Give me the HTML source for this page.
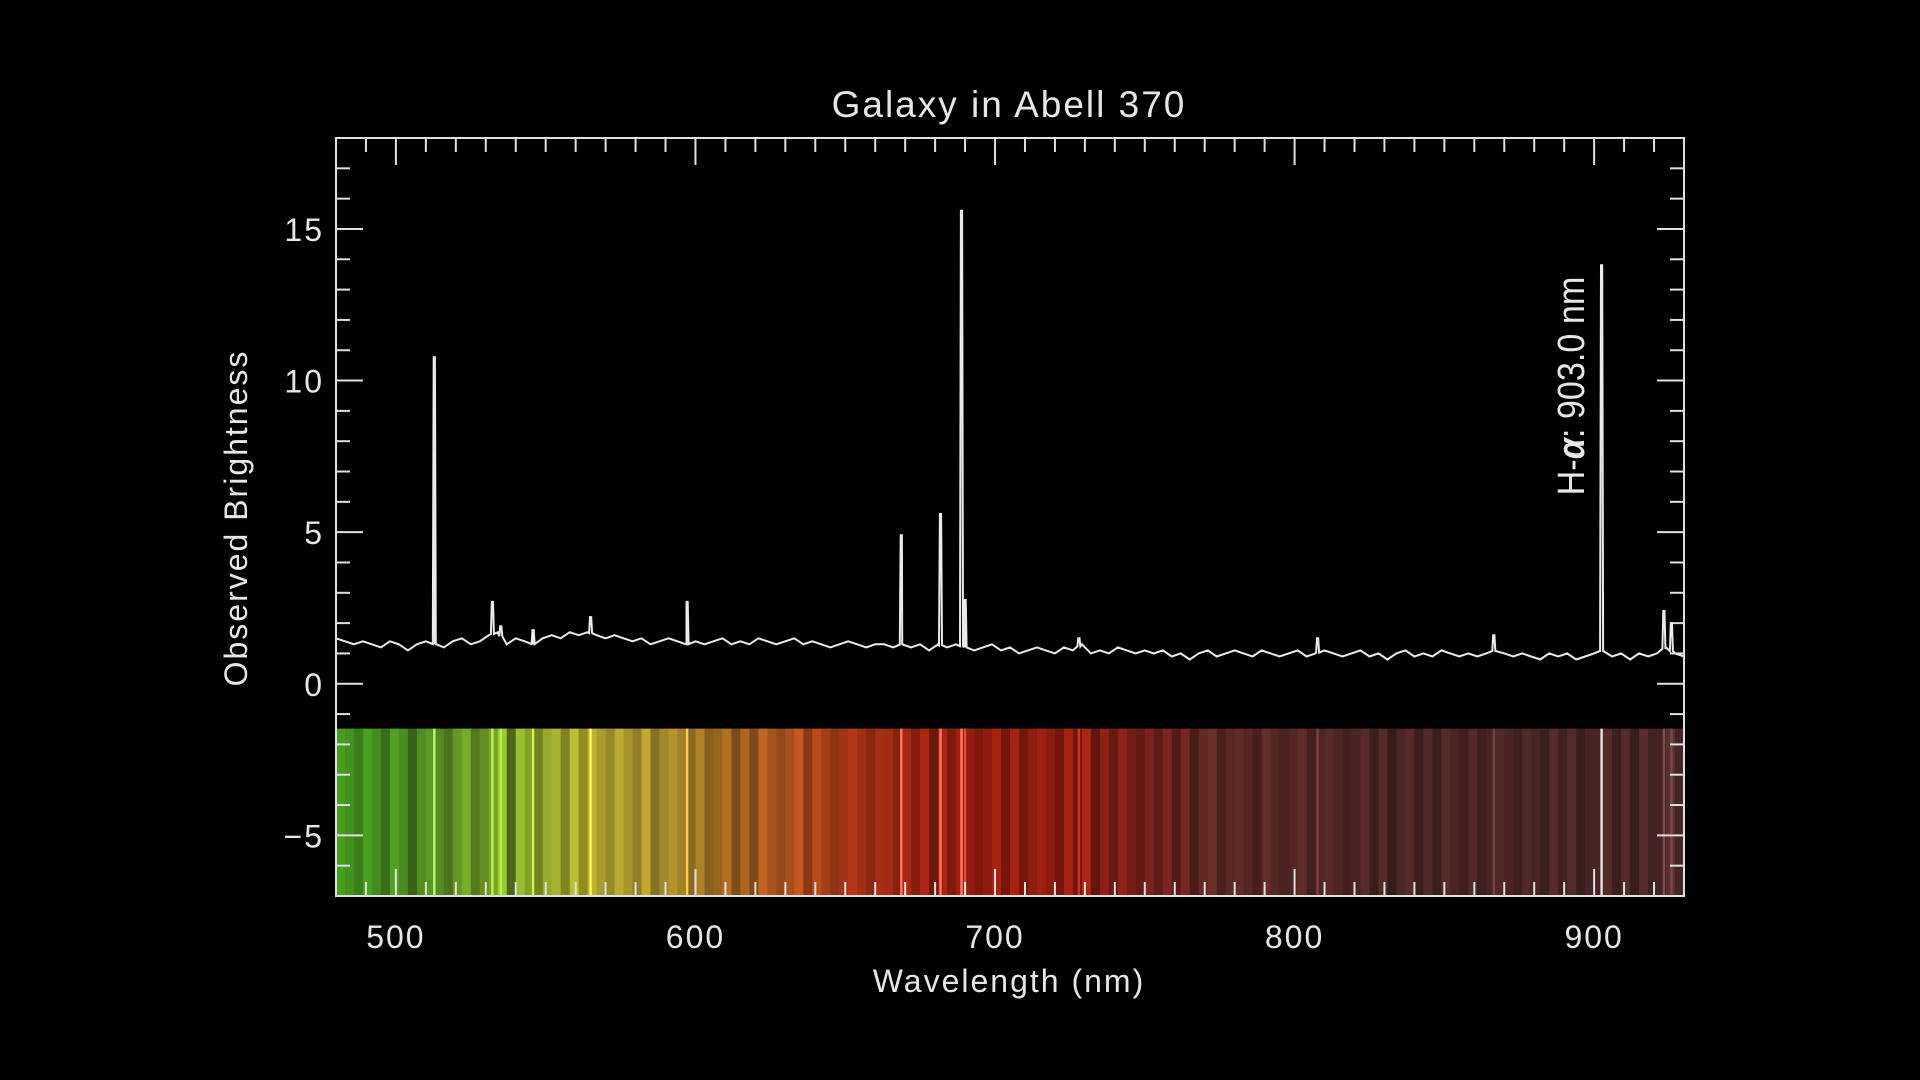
<!DOCTYPE html>
<html><head><meta charset="utf-8"><style>
html,body{margin:0;padding:0;background:#000;}
svg{display:block;}
text{font-family:"Liberation Sans",sans-serif;fill:#e6e6e6;}
</style></head><body>
<svg id="chart" width="1920" height="1080" viewBox="0 0 1920 1080">
<defs><clipPath id="plotclip"><rect x="336" y="138" width="1348" height="758"/></clipPath></defs>
<rect width="1920" height="1080" fill="#000"/>
<g id="band" clip-path="url(#plotclip)"></g>
<g id="ticks"></g>
<path id="line" clip-path="url(#plotclip)" fill="none" stroke="#eaeaea" stroke-width="2" stroke-linejoin="miter"/>
<rect x="336" y="138" width="1348" height="758" fill="none" stroke="#e0e0e0" stroke-width="2"/>
<text x="1009" y="117" text-anchor="middle" font-size="37" letter-spacing="2">Galaxy in Abell 370</text>
<text x="1009" y="992" text-anchor="middle" font-size="32" letter-spacing="2">Wavelength (nm)</text>
<text x="0" y="0" transform="translate(247,518) rotate(-90)" text-anchor="middle" font-size="32" letter-spacing="2">Observed Brightness</text>
<text x="0" y="0" transform="translate(1584,386) rotate(-90) scale(0.9,1)" text-anchor="middle" font-size="38" style="font-family:'Liberation Sans Narrow','Liberation Sans',sans-serif">H-<tspan font-style="italic" font-weight="bold">α</tspan>: 903.0 nm</text>
<g id="labels"></g>
</svg>
<script>
const continuumStart = 480;
const continuumStep = 3;
const continuum = [1.5,1.4,1.3,1.4,1.3,1.2,1.4,1.3,1.1,1.3,1.4,
1.3,1.2,1.4,1.5,1.3,1.4,1.6,1.7,1.3,1.5,
1.4,1.3,1.5,1.6,1.5,1.7,1.6,1.7,1.6,1.5,
1.6,1.5,1.4,1.5,1.3,1.4,1.5,1.4,1.3,1.4,
1.3,1.4,1.5,1.3,1.4,1.3,1.5,1.4,1.3,1.4,
1.5,1.3,1.4,1.3,1.2,1.3,1.4,1.3,1.2,1.3,
1.3,1.2,1.3,1.2,1.3,1.1,1.3,1.2,1.3,1.2,
1.1,1.2,1.3,1.1,1.2,1.0,1.1,1.2,1.1,1.0,
1.2,1.1,1.3,1.0,1.1,1.0,1.2,1.1,1.0,1.1,
1.0,1.1,0.9,1.0,0.8,1.0,1.1,0.9,1.0,1.1,
1.0,0.9,1.1,1.0,0.9,1.0,1.1,0.9,1.0,1.1,
1.0,0.9,1.0,1.1,0.9,1.0,0.8,1.0,1.1,0.9,
1.0,0.9,1.1,1.0,0.9,1.0,0.9,1.0,1.1,1.0,
0.9,1.0,0.9,0.8,1.0,0.9,1.0,0.8,0.9,1.0,
1.1,0.9,1.0,0.8,1.0,0.9,1.0,1.2,1.0,0.9];
const lineWl  = [512.8,532.2,535.0,545.8,565.0,597.2,668.7,681.8,688.8,690.0,728.0,807.7,866.5,902.5,923.3,925.8];
const lineVal = [10.8, 2.7, 1.9, 1.8, 2.2, 2.7, 4.9, 5.6, 15.6, 2.8, 1.5, 1.5, 1.6, 13.8, 2.4, 2.0];
const xTickLabels = [500,600,700,800,900];
const yTickLabels = [-5,0,5,10,15];

const X0=336,X1=1684,Y0=138,Y1=896, XMIN=480,XMAX=930,YMIN=-7,YMAX=18;
const sx = w => X0 + (w-XMIN)/(XMAX-XMIN)*(X1-X0);
const sy = v => Y0 + (YMAX-v)/(YMAX-YMIN)*(Y1-Y0);
const NS="http://www.w3.org/2000/svg";
function mk(tag, attrs, parent){const e=document.createElementNS(NS,tag);for(const k in attrs)e.setAttribute(k,attrs[k]);parent.appendChild(e);return e;}
function contAt(w){const i=(w-continuumStart)/continuumStep;const a=Math.max(0,Math.min(continuum.length-1,Math.floor(i)));const b=Math.min(continuum.length-1,a+1);const t=Math.max(0,Math.min(1,i-a));return continuum[a]*(1-t)+continuum[b]*t;}

let pts=continuum.map((v,i)=>[continuumStart+i*continuumStep,v]);
lineWl.forEach((w,i)=>{const b=contAt(w);pts.push([w-0.5,b],[w-0.2,lineVal[i]],[w+0.2,lineVal[i]],[w+0.5,b]);});
pts.sort((a,b)=>a[0]-b[0]);
pts=pts.filter(p=>p[0]>=XMIN&&p[0]<=XMAX);
document.getElementById('line').setAttribute('d',pts.map((p,i)=>(i?'L':'M')+sx(p[0]).toFixed(1)+' '+sy(p[1]).toFixed(1)).join(''));

const stops=[[480,[65,150,30]],[505,[70,130,30]],[540,[125,160,40]],[566,[170,160,45]],[595,[160,130,40]],[610,[150,95,30]],[630,[170,80,30]],[652,[160,50,22]],[680,[145,30,15]],[725,[140,28,15]],[752,[110,30,25]],[775,[88,40,36]],[830,[72,36,35]],[930,[72,38,38]]];
function baseCol(w){for(let i=0;i<stops.length-1;i++){if(w<=stops[i+1][0]){const t=(w-stops[i][0])/(stops[i+1][0]-stops[i][0]);return stops[i][1].map((c,k)=>c+(stops[i+1][1][k]-c)*t);}}return stops[stops.length-1][1];}
const band=document.getElementById('band');
const bandTop=sy(-1.48);
continuum.forEach((v,i)=>{
  const w=continuumStart+i*continuumStep;
  const prev=continuum[Math.max(0,i-1)],next=continuum[Math.min(continuum.length-1,i+1)];
  const f=Math.max(0.6,Math.min(1.35,1+1.2*(v-(prev+next)/2)));
  const c=baseCol(w+1.5).map(x=>Math.round(Math.min(255,x*f)));
  const r=mk('rect',{x:sx(w).toFixed(1),y:bandTop.toFixed(1),width:(sx(w+continuumStep)-sx(w)+0.6).toFixed(1),height:(Y1-bandTop).toFixed(1),fill:`rgb(${c})`},band);
  
  
});
lineWl.forEach((w,i)=>{
  const k=Math.min(1,(lineVal[i]-1)/5);
  const c=baseCol(w).map(x=>Math.round(Math.min(255,x*1.5+ (255-x)*0.35*k)));
  const col = lineVal[i]>12 && w>850 ? 'rgb(235,225,225)' : `rgb(${c})`;
  const r=mk('rect',{x:(sx(w)-1.2).toFixed(1),y:bandTop.toFixed(1),width:2.4,height:(Y1-bandTop).toFixed(1),fill:col},band);
  
  
});

const tk=document.getElementById('ticks');
function tick(x1,y1,x2,y2){const l=mk('line',{x1,y1,x2,y2,stroke:'#e0e0e0','stroke-width':2},tk);}
for(let w=490;w<=930;w+=10){const x=sx(w);const L=(w%100===0)?27:14;tick(x,Y1,x,Y1-L);tick(x,Y0,x,Y0+L);}
for(let v=-6;v<=17;v++){const y=sy(v);const L=(v%5===0)?27:14;tick(X0,y,X0+L,y);tick(X1,y,X1-L,y);}

const lb=document.getElementById('labels');
xTickLabels.forEach(w=>{const t=mk('text',{x:sx(w),y:948,'text-anchor':'middle','font-size':32,'letter-spacing':2},lb);t.textContent=w;});
yTickLabels.forEach(v=>{const t=mk('text',{x:324,y:sy(v)+12,'text-anchor':'end','font-size':32,'letter-spacing':2},lb);t.textContent=v<0?'\u2212'+(-v):v;});
</script>
</body></html>
